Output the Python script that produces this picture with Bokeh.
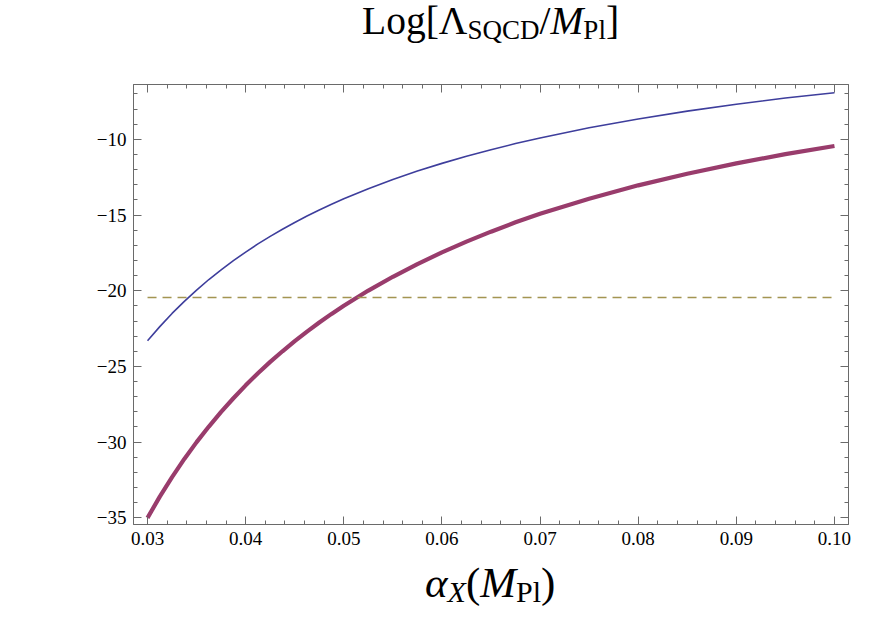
from bokeh.plotting import figure
from bokeh.models import Range1d, LinearAxis, FixedTicker, CustomJSTickFormatter, Div
from bokeh.layouts import column
from bokeh.embed import file_html
from bokeh.resources import INLINE

# ---- data ----
alpha_x = [0.03000, 0.03125, 0.03250, 0.03375, 0.03500, 0.03625, 0.03750, 0.03875,
           0.04000, 0.04125, 0.04250, 0.04375, 0.04500, 0.04625, 0.04750, 0.04875,
           0.05000, 0.05250, 0.05500, 0.05750, 0.06000, 0.06250, 0.06500, 0.06750,
           0.07000, 0.07500, 0.08000, 0.08500, 0.09000, 0.09500, 0.10000]
log_upper = [-23.30, -22.37, -21.50, -20.70, -19.96, -19.26, -18.62, -18.01,
             -17.45, -16.91, -16.41, -15.94, -15.49, -15.07, -14.67, -14.29,
             -13.93, -13.26, -12.65, -12.10, -11.59, -11.12, -10.69, -10.28,
             -9.91, -9.24, -8.66, -8.14, -7.68, -7.27, -6.93]
log_lower = [-35.00, -33.60, -32.31, -31.11, -30.00, -28.97, -28.00, -27.10,
             -26.25, -25.45, -24.70, -24.00, -23.33, -22.70, -22.10, -21.53,
             -20.99, -19.99, -19.08, -18.24, -17.47, -16.76, -16.10, -15.48,
             -14.91, -13.92, -13.04, -12.27, -11.59, -10.98, -10.44]
dashed_level = -20.45

x_major = [0.03, 0.04, 0.05, 0.06, 0.07, 0.08, 0.09, 0.10]
x_minor = [0.028 + 0.002 * i for i in range(38)]
y_major = [-35, -30, -25, -20, -15, -10]
y_minor = list(range(-36, -5))

SERIF = "Liberation Serif"
AXIS_COL = "#6a6a6a"
W = 876

p = figure(width=W, height=500, output_backend="svg", toolbar_location=None,
           x_range=Range1d(0.02857, 0.10143), y_range=Range1d(-35.44, -6.38),
           min_border_left=133, min_border_right=28, min_border_top=24, min_border_bottom=36)
p.xgrid.visible = False
p.ygrid.visible = False
p.outline_line_color = AXIS_COL
p.xaxis.visible = False
p.yaxis.visible = False

xfmt = CustomJSTickFormatter(code="return tick.toFixed(2);")
yfmt = CustomJSTickFormatter(code="return (tick < 0 ? '\u2212' : '') + Math.abs(tick).toFixed(0);")
nofmt = CustomJSTickFormatter(code="return '';")

def style(ax):
    ax.axis_line_color = AXIS_COL
    ax.major_tick_line_color = AXIS_COL
    ax.minor_tick_line_color = AXIS_COL
    ax.major_tick_in = 8
    ax.major_tick_out = 0
    ax.minor_tick_in = 4
    ax.minor_tick_out = 0
    ax.major_label_text_font = SERIF
    ax.major_label_text_font_size = "19px"
    ax.major_label_text_color = "black"
    ax.major_label_standoff = 7

bx = LinearAxis(ticker=FixedTicker(ticks=x_major, minor_ticks=x_minor), formatter=xfmt)
style(bx)
p.add_layout(bx, "below")
tx = LinearAxis(ticker=FixedTicker(ticks=x_major, minor_ticks=x_minor), formatter=nofmt)
style(tx)
p.add_layout(tx, "above")
ly = LinearAxis(ticker=FixedTicker(ticks=y_major, minor_ticks=y_minor), formatter=yfmt)
style(ly)
p.add_layout(ly, "left")
ry = LinearAxis(ticker=FixedTicker(ticks=y_major, minor_ticks=y_minor), formatter=nofmt)
style(ry)
p.add_layout(ry, "right")

# curves
p.line(alpha_x, log_upper, line_color="#3e3e9c", line_width=1.6)
p.line(alpha_x, log_lower, line_color="#993c6c", line_width=4.2)
p.line([alpha_x[0], alpha_x[-1]], [dashed_level, dashed_level], line_color="#a39552",
       line_width=1.5, line_dash="9 6")

# title and x-axis label as rich text
title_html = (
    f'<div style="position:absolute; left:362px; top:2px; white-space:nowrap; '
    f'font-family:\'{SERIF}\'; font-size:39.5px; line-height:1; color:black;">'
    'Log[\u039b<span style="font-size:27px; vertical-align:-5px;">SQCD</span>/'
    '<i>M</i><span style="font-size:27px; vertical-align:-5px;">Pl</span>]</div>'
)
xlabel_html = (
    f'<div style="position:absolute; left:425px; top:1px; white-space:nowrap; '
    f'font-family:\'{SERIF}\'; font-size:43px; line-height:1; color:black;">'
    '<i>\u03b1</i><i style="font-size:30px; vertical-align:-5px;">X</i>'
    '(<i>M</i><span style="font-size:30px; vertical-align:-5px;">Pl</span>)</div>'
)
title_div = Div(text=title_html, width=W, height=60, margin=0, styles={"position": "relative"})
xlabel_div = Div(text=xlabel_html, width=W, height=62, margin=0, styles={"position": "relative"})

layout = column(title_div, p, xlabel_div, spacing=0)
open("out.html", "w").write(file_html(layout, INLINE))
